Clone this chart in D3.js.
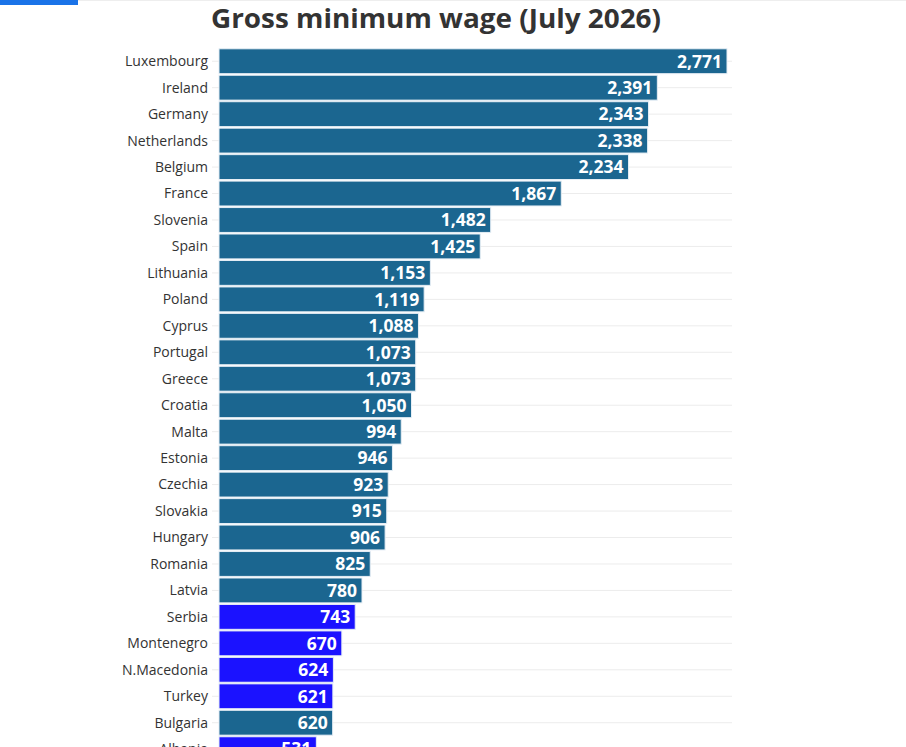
<!DOCTYPE html>
<html><head><meta charset="utf-8">
<script src="https://cdn.jsdelivr.net/npm/d3@7"></script>
<style>body{margin:0;background:#fff;overflow:hidden}</style>
</head><body>
<svg id="c" width="906" height="747"></svg>
<script>
const countries=["Luxembourg","Ireland","Germany","Netherlands","Belgium","France","Slovenia","Spain","Lithuania","Poland","Cyprus","Portugal","Greece","Croatia","Malta","Estonia","Czechia","Slovakia","Hungary","Romania","Latvia","Serbia","Montenegro","N.Macedonia","Turkey","Bulgaria","Albania"];
const wages=[2771,2391,2343,2338,2234,1867,1482,1425,1153,1119,1088,1073,1073,1050,994,946,923,915,906,825,780,743,670,624,621,620,531];
const groups=["EU","EU","EU","EU","EU","EU","EU","EU","EU","EU","EU","EU","EU","EU","EU","EU","EU","EU","EU","EU","EU","Non-EU","Non-EU","Non-EU","Non-EU","EU","Non-EU"];
const svg=d3.select("#c");
svg.append("rect").attr("x",0).attr("y",0).attr("width",78).attr("height",5).attr("fill","#1a73e8");
svg.append("line").attr("x1",78).attr("x2",906).attr("y1",0.5).attr("y2",0.5).attr("stroke","#eee");
svg.append("text").attr("x",436).attr("y",28).attr("text-anchor","middle")
 .attr("font-family","Open Sans").attr("font-weight","bold").attr("font-size",27)
 .attr("fill","#333").attr("textLength",450).attr("lengthAdjust","spacingAndGlyphs").text("Gross minimum wage (July 2026)");
const x=d3.scaleLinear().domain([0,2771]).range([219,727]);
const step=26.46;
const y=d3.scaleBand().domain(countries).range([48,48+step*countries.length]).paddingInner(0.06).paddingOuter(0.03);
const color=d3.scaleOrdinal().domain(["EU","Non-EU"]).range(["#1b6690","#1b12ff"]);
const g=svg.append("g");
countries.forEach((c,i)=>{
 const cy=y(c)+y.bandwidth()/2;
 g.append("line").attr("x1",212).attr("x2",732).attr("y1",cy).attr("y2",cy).attr("stroke","#ececec");
});
countries.forEach((c,i)=>{
 const cy=y(c)+y.bandwidth()/2;
 g.append("rect").attr("x",x(0)).attr("y",y(c)).attr("width",x(wages[i])-x(0)).attr("height",y.bandwidth())
  .attr("fill",color(groups[i])).attr("stroke","#e6eef5").attr("stroke-width",1);
 g.append("text").attr("x",x(wages[i])-5).attr("y",cy).attr("dy","0.36em").attr("text-anchor","end")
  .attr("font-family","Open Sans").attr("font-weight","bold").attr("font-size",17.5).attr("fill","#fff")
  .text(d3.format(",")(wages[i]));
 g.append("text").attr("x",208).attr("y",cy).attr("dy","0.35em").attr("text-anchor","end")
  .attr("font-family","Open Sans").attr("font-size",14).attr("fill","#333").text(c);
});
</script>
</body></html>
